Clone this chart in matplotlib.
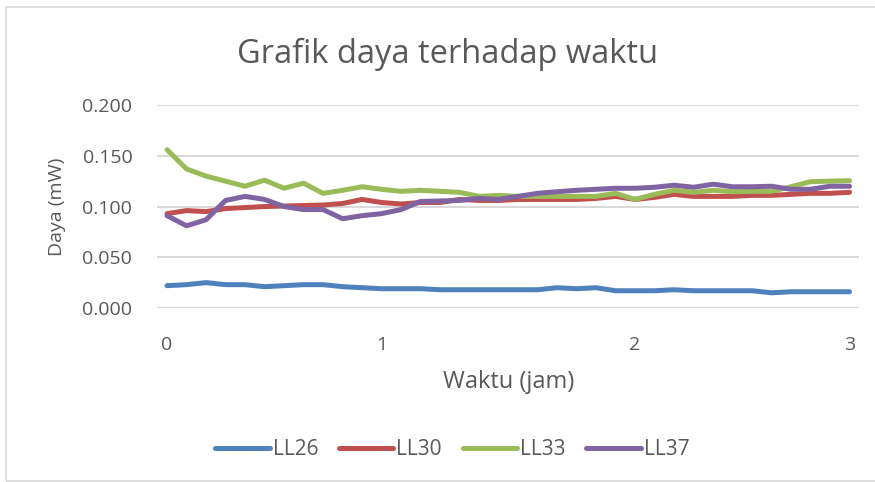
import matplotlib
matplotlib.use("Agg")
import matplotlib.pyplot as plt
from matplotlib.patches import Rectangle

# data (36 points, category axis)
ll26 = [0.022, 0.023, 0.025, 0.023, 0.023, 0.021, 0.022, 0.023, 0.023, 0.021,
        0.020, 0.019, 0.019, 0.019, 0.018, 0.018, 0.018, 0.018, 0.018, 0.018,
        0.020, 0.019, 0.020, 0.017, 0.017, 0.017, 0.018, 0.017, 0.017, 0.017,
        0.017, 0.015, 0.016, 0.016, 0.016, 0.016]
ll30 = [0.093, 0.096, 0.095, 0.098, 0.099, 0.100, 0.1005, 0.101, 0.1015, 0.103,
        0.107, 0.104, 0.1025, 0.104, 0.104, 0.107, 0.106, 0.106, 0.107, 0.107,
        0.107, 0.107, 0.108, 0.110, 0.107, 0.109, 0.112, 0.110, 0.110, 0.110,
        0.111, 0.111, 0.112, 0.113, 0.113, 0.114]
ll33 = [0.156, 0.137, 0.130, 0.125, 0.120, 0.126, 0.118, 0.123, 0.113, 0.116,
        0.1195, 0.117, 0.115, 0.116, 0.115, 0.114, 0.110, 0.111, 0.110, 0.110,
        0.110, 0.110, 0.110, 0.113, 0.107, 0.112, 0.116, 0.114, 0.116, 0.1146,
        0.115, 0.115, 0.1195, 0.1245, 0.125, 0.1255]
ll37 = [0.091, 0.081, 0.087, 0.106, 0.110, 0.107, 0.100, 0.097, 0.097, 0.088,
        0.091, 0.093, 0.097, 0.105, 0.1055, 0.106, 0.108, 0.107, 0.110, 0.113,
        0.1146, 0.116, 0.117, 0.118, 0.118, 0.119, 0.121, 0.119, 0.122, 0.1195,
        0.1195, 0.120, 0.117, 0.117, 0.120, 0.120]
series_names = ["LL26", "LL30", "LL33", "LL37"]
colors = ["#4f81bd", "#c0504d", "#9bbb59", "#8064a2"]

# category positions that carry a label
tick_pos = [0, 11, 24, 35]
tick_labels = ["0", "1", "2", "3"]
y_ticks = [0.0, 0.05, 0.10, 0.15, 0.20]

plt.rcParams['font.family'] = ['Open Sans', 'DejaVu Sans']
grey_text = "#595959"

fig = plt.figure(figsize=(8.75, 4.82), dpi=100)
ax = fig.add_axes([0.1798, 0.361, 0.8022, 0.421])

x = list(range(len(ll26)))
for vals, name, col in zip([ll26, ll30, ll33, ll37], series_names, colors):
    ax.plot(x, vals, color=col, lw=3.6, label=name, solid_capstyle="round",
            solid_joinstyle="round")

ax.set_xlim(-0.5, len(ll26) - 0.5)
ax.set_ylim(0, 0.2)
ax.set_yticks(y_ticks)
ax.set_yticklabels(["%.3f" % v for v in y_ticks])
ax.set_xticks(tick_pos)
ax.set_xticklabels(tick_labels)
ax.grid(axis="y", color="#d9d9d9", lw=1.5)
ax.set_axisbelow(True)
for s in ax.spines.values():
    s.set_visible(False)
ax.tick_params(length=0, labelsize=14, colors=grey_text)
ax.tick_params(axis="y", pad=18)
ax.tick_params(axis="x", pad=20)

# title placed in figure coords, it is centred on the whole chart
fig.text(447 / 875, 1 - 63 / 482, "Grafik daya terhadap waktu", fontsize=23.5,
         color=grey_text, ha="center", va="baseline")
ax.set_xlabel("Waktu (jam)", fontsize=17, color=grey_text, labelpad=12)
ax.set_ylabel("Daya (mW)", fontsize=14, color=grey_text, labelpad=12)

leg = fig.legend(loc="center", bbox_to_anchor=(0.517, 0.067), ncol=4, frameon=False,
                 fontsize=15, handlelength=2.6, handletextpad=0.15, columnspacing=1.0,
                 labelcolor=grey_text)

fig.add_artist(Rectangle((6 / 875, 1 / 482), 1.0, 474 / 482, transform=fig.transFigure,
                         fill=False, edgecolor="#d9d9d9", lw=1.2))

fig.savefig("out.png", dpi=100)
